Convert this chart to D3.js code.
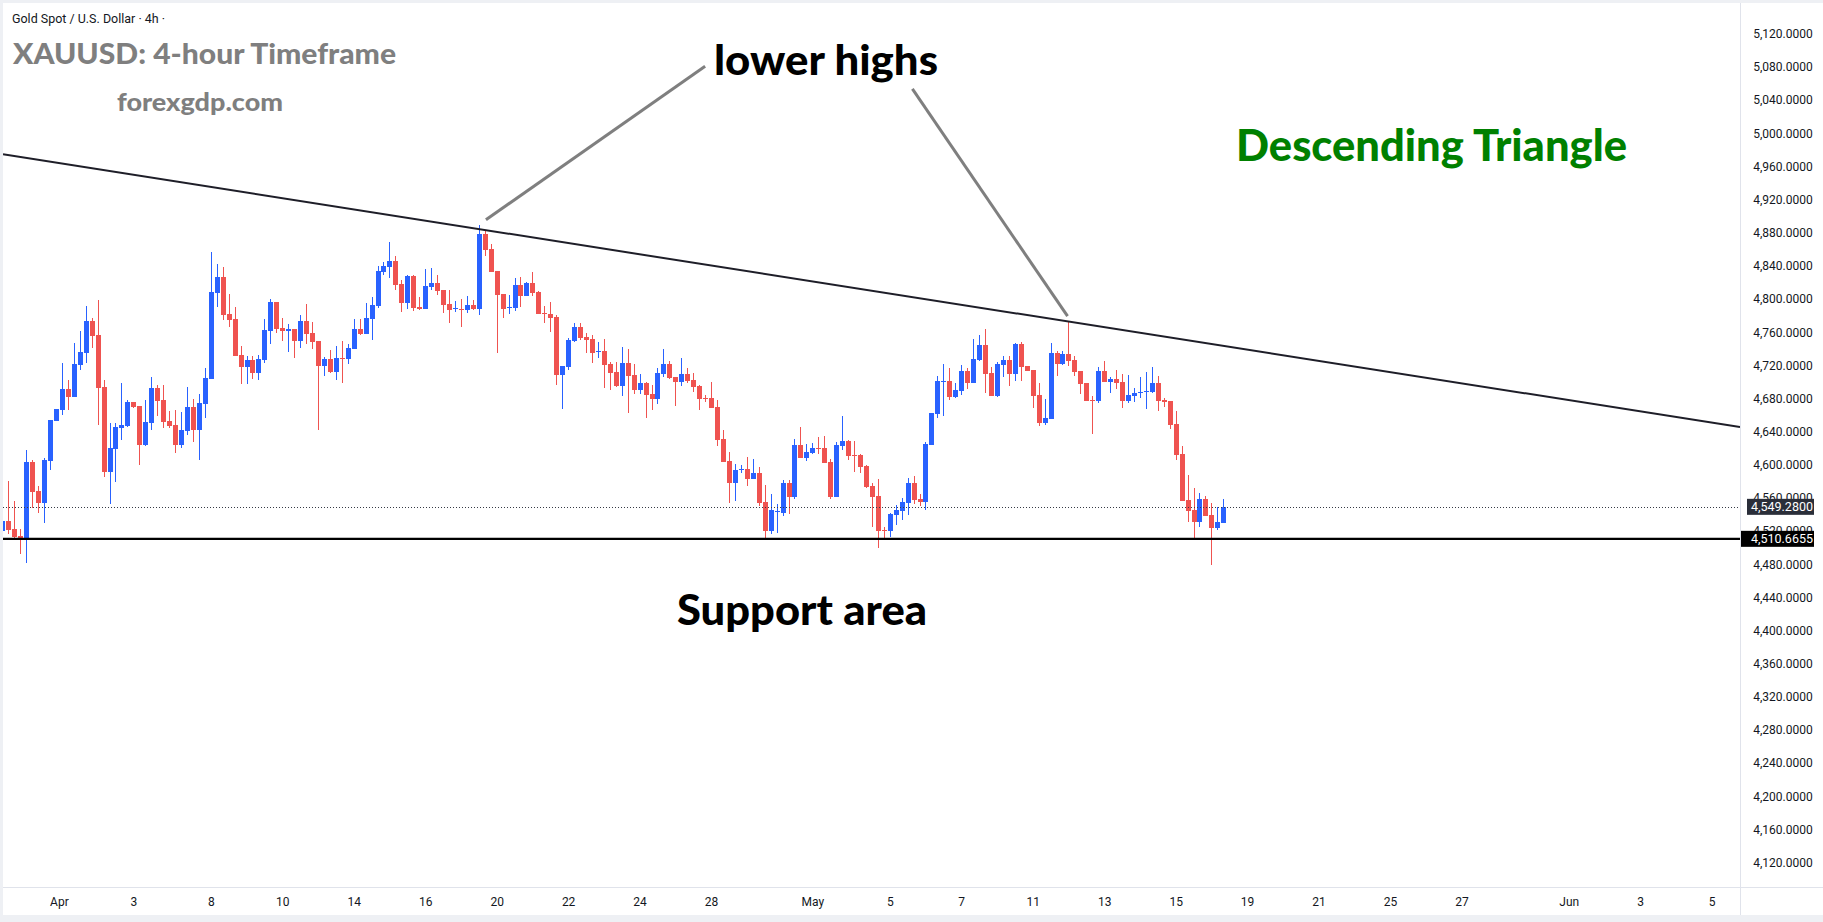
<!DOCTYPE html>
<html>
<head>
<meta charset="utf-8">
<title>XAUUSD 4h - Descending Triangle</title>
<script src="https://cdn.jsdelivr.net/npm/d3@7"></script>
<style>
  html, body { margin: 0; padding: 0; background: #eef0f4; }
  svg { display: block; }
</style>
</head>
<body>
<svg id="chart" width="1823" height="922"></svg>
<script>
// 4h candles, read left to right off the picture
const opens = [
  4520.5, 4532.2, 4522.5, 4514.1, 4509.3, 4603.4, 4568.4, 4554.3, 4605, 4653.2,
  4666.1, 4691.5, 4682.2, 4720.8, 4735.3, 4773.5, 4756.6, 4693.5, 4591.7, 4619.5,
  4644.8, 4646.8, 4675.8, 4671.3, 4623.9, 4650.8, 4692.7, 4678.2, 4652.8, 4648,
  4623.9, 4640.8, 4669.7, 4642, 4673.8, 4703.5, 4807.7, 4826.6, 4782, 4775.9,
  4732.5, 4718.4, 4726.4, 4711.2, 4726.4, 4761.8, 4796.4, 4765.5, 4761.8, 4763.8,
  4749.8, 4773.5, 4759, 4749.8, 4719.6, 4727.6, 4712, 4728.9, 4728.1, 4740.1,
  4763.8, 4758.2, 4776.3, 4791.6, 4832.6, 4838.7, 4845.9, 4818.1, 4795.2, 4827.8,
  4790.4, 4788, 4814.5, 4819.4, 4810.9, 4794, 4788, 4788, 4786.8, 4792.8,
  4788, 4878.5, 4860.4, 4833.8, 4806.1, 4790.4, 4789.2, 4817, 4803.7, 4819.4,
  4808.5, 4783.2, 4782, 4778.3, 4708.3, 4718, 4749.4, 4765.9, 4753.9, 4751.4,
  4736.1, 4737.4, 4721.7, 4712, 4695.5, 4722.9, 4708.4, 4690.7, 4698.7, 4685.5,
  4679.8, 4709.6, 4721.7, 4706, 4700.4, 4709.6, 4702.4, 4695.1, 4680.6, 4680.6,
  4669.8, 4631.2, 4605, 4578.5, 4594.2, 4595.4, 4583.3, 4590.6, 4555.6, 4520.6,
  4543.5, 4542.3, 4578.5, 4561.6, 4624.3, 4608.7, 4614.7, 4620.7, 4620.7, 4603.8,
  4561.6, 4623.1, 4629.2, 4612.3, 4612.3, 4599, 4574.9, 4562.4, 4521.8, 4520.6,
  4539.9, 4544.7, 4554.4, 4578.5, 4559.2, 4555.6, 4624.3, 4661.8, 4700.4, 4701.6,
  4682.3, 4689.5, 4713.6, 4699.1, 4726.5, 4745, 4711.2, 4683.5, 4720.9, 4726.9,
  4710, 4746.2, 4719.7, 4714.8, 4684.7, 4650.9, 4655.7, 4735.3, 4722.1, 4734.1,
  4726.9, 4713.6, 4699.1, 4678.6, 4677.4, 4713.6, 4700.4, 4704, 4700.4, 4677.4,
  4683.5, 4686.9, 4688.3, 4688.3, 4699.1, 4678.6, 4677.4, 4649.7, 4613.5, 4558,
  4545.9, 4531.4, 4559.2, 4539.9, 4524.2, 4530.2
];
const highs = [
  4534, 4580.4, 4556.3, 4522.5, 4617.8, 4605.8, 4574.4, 4608.2, 4654, 4667,
  4722.8, 4702.3, 4746.6, 4761.4, 4791.6, 4777.5, 4798.8, 4702.3, 4650.8, 4650.8,
  4699.1, 4678.2, 4676, 4671.3, 4678.2, 4706.3, 4696.3, 4696.3, 4664.9, 4666.1,
  4663.3, 4693.9, 4679.4, 4685.4, 4717.2, 4857.2, 4841.9, 4838.7, 4806.1, 4790.4,
  4743.3, 4731.3, 4731.3, 4732.5, 4775.9, 4800, 4796.4, 4777.5, 4769.9, 4763.8,
  4780.7, 4794, 4772.3, 4749.8, 4730.1, 4738.5, 4743.3, 4749.8, 4745.8, 4775.9,
  4775.9, 4795.2, 4802.5, 4839.9, 4844.7, 4868.8, 4851.9, 4823, 4829, 4829,
  4802.5, 4836.2, 4837.5, 4829, 4810.9, 4810.9, 4797.6, 4800, 4803.7, 4798.8,
  4889.3, 4882.1, 4866.4, 4833.8, 4806.1, 4804.9, 4825.4, 4826.6, 4820.6, 4832.6,
  4809.7, 4791.6, 4796.4, 4780.7, 4719.2, 4753, 4771.1, 4770.7, 4758.7, 4756.3,
  4748.2, 4751.4, 4724.1, 4724.1, 4742.2, 4739.8, 4721.7, 4709.6, 4699.9, 4696.3,
  4716.8, 4739.8, 4725.3, 4706, 4728.9, 4716.8, 4710.8, 4696.3, 4684.3, 4700,
  4678.2, 4642, 4615.9, 4601.4, 4600.2, 4609.5, 4607.5, 4597.8, 4576.1, 4565.2,
  4553.2, 4582.1, 4582.1, 4631.6, 4646, 4625.6, 4626.8, 4634, 4635.2, 4607,
  4628, 4659.3, 4630.4, 4629.2, 4613.5, 4600.2, 4578.5, 4583.3, 4525.4, 4542.3,
  4552, 4560.4, 4584.5, 4586.9, 4565.2, 4628, 4663, 4707.6, 4722.1, 4717.3,
  4699.1, 4720.9, 4717.3, 4751.8, 4756.6, 4763.9, 4718.5, 4724.5, 4731.7, 4731.7,
  4747.4, 4748.6, 4719.7, 4714.8, 4699.1, 4679.8, 4747.4, 4737.8, 4737.8, 4772.8,
  4731.7, 4713.6, 4699.1, 4683.5, 4718.5, 4725.7, 4706.4, 4714.8, 4710, 4708.8,
  4693.1, 4706.4, 4712.4, 4718.5, 4707.6, 4681, 4677.4, 4665.4, 4623.1, 4588.1,
  4572.5, 4566.4, 4562.8, 4554.4, 4549.5, 4559.2
];
const lows = [
  4518, 4516.1, 4510.5, 4492.4, 4481.9, 4547.5, 4542.2, 4529.4, 4593.7, 4653,
  4660.1, 4666.1, 4682.2, 4714.4, 4722.8, 4741.3, 4648, 4584.9, 4552.7, 4579.2,
  4629.9, 4646, 4669, 4599.8, 4622.7, 4642, 4658.9, 4644.8, 4644.8, 4614.6,
  4619.9, 4636, 4627.9, 4605.8, 4656.9, 4703.5, 4790, 4774.7, 4766.7, 4731.7,
  4697.9, 4697.9, 4703.5, 4702.3, 4723.2, 4745.8, 4759.4, 4749.8, 4736.5, 4729.3,
  4741.3, 4746.2, 4740.1, 4642.4, 4707.5, 4710.8, 4702.7, 4698.7, 4722, 4740.1,
  4757, 4758.2, 4751, 4789.2, 4829, 4825.4, 4810.9, 4784.4, 4788, 4785.6,
  4786.8, 4788, 4810.9, 4804.9, 4783.2, 4771.1, 4784.4, 4766.3, 4783.2, 4787,
  4780.7, 4851.9, 4832.6, 4735, 4777.1, 4782, 4785.6, 4790.4, 4803.7, 4803.7,
  4782, 4771.1, 4760.2, 4696.3, 4667.3, 4714.4, 4748.2, 4750.6, 4735.3, 4723.3,
  4729.3, 4693.1, 4690.3, 4694.3, 4683.1, 4662.9, 4685.5, 4685.5, 4656.9, 4666.2,
  4673.8, 4706.4, 4704, 4671.4, 4695.5, 4699.1, 4688.3, 4666.6, 4676.2, 4669,
  4623.1, 4603.8, 4554.4, 4556.8, 4590.6, 4574.9, 4583.3, 4550.7, 4509.3, 4517,
  4518.2, 4538.7, 4541.1, 4559.2, 4608.7, 4605, 4613.5, 4613.5, 4602.6, 4559.2,
  4561.6, 4618.3, 4606.2, 4591.8, 4590.6, 4572.5, 4525.4, 4500.1, 4509.3, 4512.9,
  4527.8, 4533.8, 4539.9, 4553.2, 4550.7, 4545.9, 4624.3, 4656.9, 4659.3, 4678.6,
  4681, 4684.7, 4691.9, 4699.1, 4725.7, 4687.1, 4683.5, 4682.3, 4706.4, 4695.5,
  4701.6, 4701.6, 4713.6, 4669, 4647.3, 4648.5, 4655.7, 4707.6, 4720.9, 4719.7,
  4707.6, 4685.9, 4677.4, 4637.6, 4675, 4700.4, 4687.1, 4691.9, 4669, 4675,
  4676.2, 4681, 4667.8, 4687.1, 4665.4, 4670.2, 4643.6, 4606.2, 4556.8, 4531.4,
  4510.9, 4525.4, 4538.7, 4479.6, 4521.8, 4530.2
];
const closes = [
  4532.2, 4521.3, 4513.3, 4509.3, 4603.4, 4567.6, 4554.3, 4605.8, 4654, 4666.9,
  4691.5, 4682.2, 4721.6, 4736.1, 4773.5, 4755.8, 4693.1, 4591.7, 4620.3, 4645.6,
  4648, 4675.8, 4670.1, 4623.9, 4652, 4692.7, 4677.4, 4652, 4646.8, 4623.9,
  4642, 4669.7, 4642, 4674.6, 4705.1, 4808.9, 4826.6, 4780.7, 4774.7, 4731.7,
  4718.4, 4726.4, 4711.2, 4727.6, 4762.6, 4796.4, 4764.3, 4761.8, 4763.8, 4749.8,
  4773.5, 4758.2, 4748.6, 4719.6, 4727.6, 4712, 4728.9, 4728.1, 4740.9, 4763.8,
  4758.2, 4777.1, 4792.8, 4833.8, 4839.9, 4845.9, 4817, 4795.2, 4827.8, 4789.2,
  4788, 4815.7, 4819.4, 4809.7, 4792.8, 4786.8, 4788.8, 4787.2, 4792.8, 4788,
  4878.5, 4859.2, 4832.6, 4804.9, 4788, 4790.8, 4817, 4803.7, 4819.4, 4807.3,
  4782, 4782, 4777.1, 4708.3, 4719.2, 4750.6, 4766.3, 4753.5, 4750.6, 4735.3,
  4737.4, 4720.9, 4711.2, 4695.5, 4722.9, 4707.6, 4690.7, 4698.7, 4684.3, 4679.8,
  4710.8, 4721.7, 4705.2, 4700.4, 4709.6, 4701.6, 4694.3, 4679.8, 4679.4, 4669,
  4630.4, 4603.8, 4578.5, 4594.2, 4595.4, 4583.3, 4590.6, 4554.4, 4520.6, 4545.9,
  4544.7, 4578.5, 4561.6, 4624.3, 4608.7, 4615.9, 4620.7, 4619.5, 4602.6, 4561.6,
  4624.3, 4629.2, 4611.1, 4611.1, 4597.8, 4573.7, 4561.6, 4520.6, 4520.6, 4541.1,
  4545.9, 4555.6, 4578.5, 4558, 4555.6, 4625.6, 4663, 4701.6, 4701.6, 4682.3,
  4690.7, 4713.6, 4699.1, 4728.1, 4745, 4710, 4683.5, 4722.1, 4726.9, 4710,
  4746.2, 4718.5, 4713.6, 4683.5, 4650.9, 4656.9, 4735.3, 4722.1, 4734.1, 4725.7,
  4712.4, 4698, 4677.4, 4677.4, 4713.6, 4700.4, 4704, 4699.1, 4677.4, 4684.7,
  4687.1, 4688.3, 4689.5, 4699.1, 4677.4, 4676.2, 4648.5, 4612.3, 4556.8, 4544.7,
  4531.4, 4559.2, 4538.7, 4524.2, 4531.4, 4549.28
];

// Axis ticks
const priceTicks = [
  4120, 4160, 4200, 4240, 4280, 4320, 4360, 4400, 4440, 4480, 4520, 4560, 4600,
  4640, 4680, 4720, 4760, 4800, 4840, 4880, 4920, 4960, 5000, 5040, 5080, 5120
];
const timeTickBars = [9.5, 22, 35, 47, 59, 71, 83, 95, 107, 119, 136, 149, 161, 173, 185, 197, 209, 221, 233, 245, 263, 275, 287];
const timeTickLabels = ["Apr", "3", "8", "10", "14", "16", "20", "22", "24", "28", "May", "5", "7", "11", "13", "15", "19", "21", "25", "27", "Jun", "3", "5"];

// Levels and drawings, as [bar index, price]
const lastPrice = 4549.28;
const supportPrice = 4510.6655;
const trendAnchors = [[80, 4884.5], [179, 4772.8]];
const pointerLeft = [[81.2, 4895.7], [118.0, 5080.8]];
const pointerRight = [[152.8, 5053.5], [178.85, 4779.3]];

(function() {
    const W = 1823;
    const plot = {left: 3, top: 3, right: 1740, bottom: 887};
    const frameBottom = 915;
    const UP = "#2962ff", DOWN = "#ef5350";

    const svg = d3.select("#chart");

    // white chart canvas inside the grey frame
    svg.append("rect")
        .attr("x", plot.left).attr("y", plot.top)
        .attr("width", W - plot.left).attr("height", frameBottom - plot.top)
        .attr("fill", "#ffffff");

    const x = d3.scaleLinear().domain([0, 205]).range([2.3, 1223.3]);
    const y = d3.scaleLinear().domain([4120, 5120]).range([862.6, 33.85]);

    svg.append("defs").append("clipPath").attr("id", "plotClip")
        .append("rect")
        .attr("x", plot.left).attr("y", plot.top)
        .attr("width", plot.right - plot.left).attr("height", plot.bottom - plot.top);

    const g = svg.append("g").attr("clip-path", "url(#plotClip)");

    // candles
    const bars = d3.range(opens.length).map(i => ({
        i: i, o: opens[i], h: highs[i], l: lows[i], c: closes[i]
    }));
    const candles = g.append("g").attr("shape-rendering", "crispEdges");
    candles.selectAll("rect.wick")
        .data(bars).join("rect")
        .attr("class", "wick")
        .attr("x", d => Math.round(x(d.i)))
        .attr("width", 1)
        .attr("y", d => y(d.h))
        .attr("height", d => Math.max(1, y(d.l) - y(d.h)))
        .attr("fill", d => d.c >= d.o ? UP : DOWN);
    candles.selectAll("rect.body")
        .data(bars).join("rect")
        .attr("class", "body")
        .attr("x", d => Math.round(x(d.i)) - 2)
        .attr("width", 5)
        .attr("y", d => y(Math.max(d.o, d.c)))
        .attr("height", d => Math.max(1, Math.abs(y(d.o) - y(d.c))))
        .attr("fill", d => d.c >= d.o ? UP : DOWN);

    // last price dotted line
    g.append("line")
        .attr("x1", plot.left).attr("x2", plot.right)
        .attr("y1", Math.round(y(lastPrice)) + 0.5).attr("y2", Math.round(y(lastPrice)) + 0.5)
        .attr("stroke", "#363a45").attr("stroke-width", 1)
        .attr("stroke-dasharray", "1,2");

    // support line
    g.append("line")
        .attr("x1", plot.left).attr("x2", plot.right)
        .attr("y1", y(supportPrice)).attr("y2", y(supportPrice))
        .attr("stroke", "#000000").attr("stroke-width", 2.2);

    // descending trend line, extended over the whole plot
    const slope = (trendAnchors[1][1] - trendAnchors[0][1]) / (trendAnchors[1][0] - trendAnchors[0][0]);
    const priceAt = b => trendAnchors[0][1] + slope * (b - trendAnchors[0][0]);
    const bL = x.invert(plot.left), bR = x.invert(plot.right);
    g.append("line")
        .attr("x1", x(bL)).attr("y1", y(priceAt(bL)))
        .attr("x2", x(bR)).attr("y2", y(priceAt(bR)))
        .attr("stroke", "#1e1e28").attr("stroke-width", 2);

    // grey pointers to the two highs
    [pointerLeft, pointerRight].forEach(p => {
        g.append("line")
            .attr("x1", x(p[0][0])).attr("y1", y(p[0][1]))
            .attr("x2", x(p[1][0])).attr("y2", y(p[1][1]))
            .attr("stroke", "#7f7f7f").attr("stroke-width", 3);
    });

    // axis separators
    svg.append("line")
        .attr("x1", plot.right + 0.5).attr("x2", plot.right + 0.5)
        .attr("y1", plot.top).attr("y2", frameBottom)
        .attr("stroke", "#e0e3eb");
    svg.append("line")
        .attr("x1", plot.left).attr("x2", W)
        .attr("y1", plot.bottom + 0.5).attr("y2", plot.bottom + 0.5)
        .attr("stroke", "#e0e3eb");

    // price axis
    const yAxis = svg.append("g")
        .attr("transform", "translate(" + plot.right + ",0)")
        .call(d3.axisRight(y).tickValues(priceTicks).tickSize(0).tickPadding(0)
            .tickFormat(d3.format(",.4f")));
    yAxis.select(".domain").remove();
    yAxis.selectAll("text")
        .attr("x", 43)
        .attr("text-anchor", "middle")
        .attr("fill", "#131722")
        .style("font-family", "Roboto, 'Liberation Sans', sans-serif")
        .style("font-size", "12px");

    // time axis
    const xAxis = svg.append("g")
        .attr("transform", "translate(0," + plot.bottom + ")")
        .call(d3.axisBottom(x).tickValues(timeTickBars).tickSize(0).tickPadding(10)
            .tickFormat((d, i) => timeTickLabels[i]));
    xAxis.select(".domain").remove();
    xAxis.selectAll("text")
        .attr("fill", "#131722")
        .style("font-family", "Roboto, 'Liberation Sans', sans-serif")
        .style("font-size", "12px");

    // price labels for last price and support
    function priceTag(price, bg, x0) {
        const cy = y(price);
        svg.append("rect")
            .attr("x", x0).attr("y", cy - 8)
            .attr("width", 1814 - x0).attr("height", 16)
            .attr("fill", bg);
        svg.append("text")
            .attr("x", 1782).attr("y", cy + 4.5)
            .attr("text-anchor", "middle")
            .attr("fill", "#ffffff")
            .style("font-family", "Roboto, 'Liberation Sans', sans-serif")
            .style("font-size", "12.5px")
            .text(d3.format(",.4f")(price));
    }
    priceTag(lastPrice, "#2a2e39", 1747);
    priceTag(supportPrice, "#000000", 1741);

    // texts
    function label(txt, x0, base, size, width, color, weight) {
        svg.append("text")
            .attr("x", x0).attr("y", base)
            .attr("fill", color)
            .attr("textLength", width)
            .attr("lengthAdjust", "spacingAndGlyphs")
            .style("font-family", "Lato, 'Open Sans', sans-serif")
            .style("font-weight", weight)
            .style("font-size", size + "px")
            .text(txt);
    }
    svg.append("text")
        .attr("x", 12).attr("y", 23)
        .attr("fill", "#131722")
        .attr("textLength", 153)
        .attr("lengthAdjust", "spacingAndGlyphs")
        .style("font-family", "Roboto, sans-serif")
        .style("font-size", "13px")
        .text("Gold Spot / U.S. Dollar \u00b7 4h \u00b7");

    label("XAUUSD: 4-hour Timeframe", 13, 64, 28, 383, "#7f7f7f", 900);
    label("forexgdp.com", 117, 111, 24, 166, "#7f7f7f", 900);
    label("lower highs", 714, 75, 42, 224, "#000000", 900);
    label("Descending Triangle", 1236, 161, 44, 391, "#008000", 900);
    label("Support area", 677, 625, 42, 250, "#000000", 900);
})();
</script>
</body>
</html>
